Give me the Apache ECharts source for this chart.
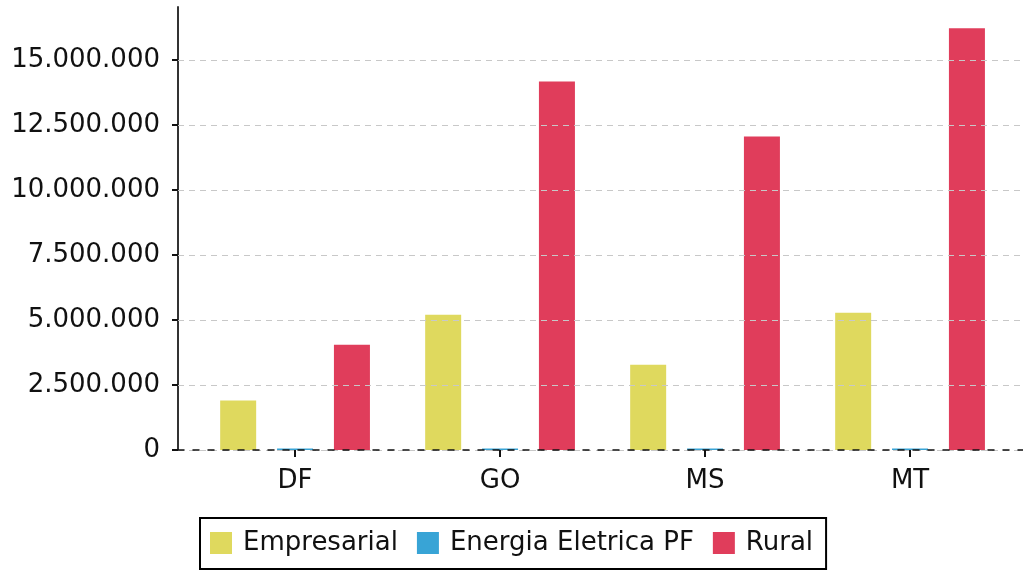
<!DOCTYPE html>
<html>
<head>
<meta charset="utf-8">
<script src="https://cdn.jsdelivr.net/npm/echarts@6/dist/echarts.min.js"></script>
<style>
  html, body { margin: 0; padding: 0; background: #fff; }
  #chart { width: 1023px; height: 572px; }
</style>
</head>
<body>
<div id="chart"></div>
<script>
// Data
const categories = ['DF', 'GO', 'MS', 'MT'];
const empresarial = [1900000, 5200000, 3280000, 5280000];
const energiaPF = [60000, 60000, 60000, 60000];
const rural = [4050000, 14170000, 12050000, 16210000];
const yTicks = [0, 2500000, 5000000, 7500000, 10000000, 12500000, 15000000];

const font = 'DejaVu Sans';

function fmt(v) {
    return String(Math.round(v)).replace(/\B(?=(\d{3})+(?!\d))/g, '.');
}

// bars sit on a value axis so the category slots can be offset from the y axis
function toPoints(arr) {
    return arr.map((v, i) => [i, v]);
}

const chart = echarts.init(document.getElementById('chart'));

const barStyle = { barWidth: 36, barGap: '58%', z: 3 };

chart.setOption({
    animation: false,
    backgroundColor: '#fff',
    grid: { left: 178, right: 0, top: 7, bottom: 122, containLabel: false },
    legend: {
        left: 200,
        top: 518,
        padding: [12, 13, 13, 10],
        borderColor: '#000',
        borderWidth: 2,
        borderRadius: 0,
        itemWidth: 22,
        itemHeight: 22,
        itemGap: 19,
        icon: 'rect',
        textStyle: { fontFamily: font, fontSize: 26, color: '#111', padding: [0, 0, 0, 6] },
        data: ['Empresarial', 'Energia Eletrica PF', 'Rural']
    },
    xAxis: {
        type: 'value',
        min: -0.571,
        max: 3.551,
        z: 5,
        splitLine: { show: false },
        axisLine: { show: true, onZero: true, lineStyle: { color: '#111', width: 1.5, type: [6, 9] } },
        axisTick: {
            show: true,
            customValues: [0, 1, 2, 3],
            length: 7,
            lineStyle: { color: '#111', width: 2 }
        },
        axisLabel: {
            customValues: [0, 1, 2, 3],
            formatter: v => categories[Math.round(v)] || '',
            fontFamily: font,
            fontSize: 26,
            color: '#111',
            margin: 18
        }
    },
    yAxis: {
        type: 'value',
        min: 0,
        max: 17030000,
        interval: 2500000,
        axisLine: { show: true, onZero: false, lineStyle: { color: '#333', width: 2 } },
        axisTick: { show: true, customValues: yTicks, length: 6, lineStyle: { color: '#111', width: 2 } },
        axisLabel: {
            customValues: yTicks,
            formatter: v => fmt(v),
            fontFamily: font,
            fontSize: 26,
            color: '#111',
            margin: 18
        },
        splitLine: { show: false }
    },
    series: [
        // grid lines only at the labelled ticks
        {
            name: 'grid', type: 'line', data: [], z: 0, silent: true,
            markLine: {
                silent: true, symbol: 'none', label: { show: false },
                lineStyle: { color: '#c8c8c8', width: 1.2, type: [6, 5] },
                data: yTicks.map(v => ({ yAxis: v }))
            }
        },
        Object.assign({ name: 'Empresarial', type: 'bar', data: toPoints(empresarial), itemStyle: { color: '#dfd95e' } }, barStyle),
        Object.assign({ name: 'Energia Eletrica PF', type: 'bar', data: toPoints(energiaPF), itemStyle: { color: '#38a4d6' } }, barStyle),
        Object.assign({ name: 'Rural', type: 'bar', data: toPoints(rural), itemStyle: { color: '#e03d5b' } }, barStyle)
    ]
});
</script>
</body>
</html>
